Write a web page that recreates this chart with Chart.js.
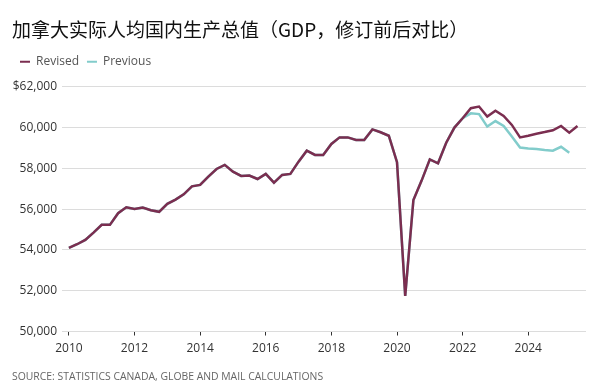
<!DOCTYPE html>
<html>
<head>
<meta charset="utf-8">
<script src="https://cdn.jsdelivr.net/npm/chart.js@4"></script>
<style>
  html,body{margin:0;padding:0;background:#fff;}
  #wrap{width:600px;height:389px;position:relative;}
</style>
</head>
<body>
<div id="wrap"><canvas id="gdp"></canvas></div>
<script>
/* Canada real GDP per capita, revised vs previous (quarterly, 2010 Q1 - 2025 Q3) */
const C_REV  = '#7b2e50';
const C_PREV = '#82cccb';
const gridColor = '#dcdcdc';

const startYear = 2010;
const revised = [
  54100, 54280, 54490, 54850,
  55230, 55230, 55800, 56090,
  56010, 56080, 55950, 55870,
  56260, 56470, 56730, 57120,
  57190, 57600, 57970, 58170,
  57840, 57630, 57650, 57480,
  57730, 57300, 57680, 57730,
  58330, 58870, 58660, 58660,
  59200, 59520, 59520, 59390,
  59390, 59910, 59770, 59600,
  58300, 51750, 56450, 57400,
  58440, 58250, 59260, 60000,
  60460, 60950, 61030, 60540,
  60830, 60570, 60130, 59520,
  59600, 59700, 59780, 59870,
  60080, 59750, 60080
];
const previousTail = [
  60700, 60660, 60050,
  60320, 60080, 59560, 59020,
  58970, 58950, 58900, 58870,
  59060, 58770
];
const previous = revised.slice(0, 49).concat(previousTail);

const xTicks = [2010, 2012, 2014, 2016, 2018, 2020, 2022, 2024];
const yTicks = [50000, 52000, 54000, 56000, 58000, 60000, 62000];

const toPts = arr => arr.map((v, i) => ({x: startYear + i / 4, y: v}));

const tickFont = {family: "'Open Sans', sans-serif", size: 12};

// a little extra room under the legend
const legendGap = {id: 'legendGap', beforeInit(chart){
  const fit = chart.legend.fit;
  chart.legend.fit = function(){ fit.call(this); this.height += 9; };
}};

new Chart(document.getElementById('gdp'), {
  type: 'line',
  data: {datasets: [
    {label: 'Revised', data: toPts(revised), borderColor: C_REV, backgroundColor: C_REV,
     borderWidth: 2.5, pointRadius: 0, tension: 0},
    {label: 'Previous', data: toPts(previous), borderColor: C_PREV, backgroundColor: C_PREV,
     borderWidth: 2.5, pointRadius: 0, tension: 0}
  ]},
  plugins: [legendGap],
  options: {
    responsive: true, maintainAspectRatio: false, animation: false,
    layout: {padding: {left: 12, right: 14, top: 0, bottom: 0}},
    plugins: {
      title: {display: true, align: 'start', color: '#111',
        text: '加拿大实际人均国内生产总值（GDP，修订前后对比）',
        font: {family: "'Noto Sans CJK SC', sans-serif", size: 19, weight: 'normal'},
        padding: {top: 18, bottom: 7}},
      legend: {display: true, position: 'top', align: 'start',
        labels: {boxWidth: 10, boxHeight: 2, padding: 8, color: '#555',
          font: {family: "'Open Sans', sans-serif", size: 12},
          generateLabels: chart => chart.data.datasets.map((d, i) => ({
            text: d.label, fillStyle: d.borderColor, strokeStyle: d.borderColor,
            lineWidth: 0, datasetIndex: i, fontColor: '#555'}))}},
      subtitle: {display: true, position: 'bottom', align: 'start', color: '#666',
        text: 'SOURCE: STATISTICS CANADA, GLOBE AND MAIL CALCULATIONS',
        font: {family: "'Open Sans', sans-serif", size: 10.4},
        padding: {top: 8, bottom: 6}},
      tooltip: {enabled: false}
    },
    scales: {
      x: {type: 'linear', min: 2009.79, max: 2025.76,
        afterBuildTicks: s => { s.ticks = xTicks.map(v => ({value: v})); },
        afterFit: s => { s.height = 31; },
        grid: {drawOnChartArea: false, drawTicks: true, tickLength: 4, color: '#333'},
        border: {display: false},
        ticks: {color: '#333', font: tickFont, padding: 6, maxRotation: 0,
          callback: v => String(v)}},
      y: {min: 50000, max: 62000,
        afterBuildTicks: s => { s.ticks = yTicks.map(v => ({value: v})); },
        afterFit: s => { s.width = 50; },
        grid: {color: gridColor, drawTicks: false, lineWidth: 1},
        border: {display: false},
        ticks: {color: '#333', font: tickFont, padding: 5,
          callback: v => (v === 62000 ? '$' : '') + v.toLocaleString('en-US')}}
    }
  }
});
</script>
</body>
</html>
